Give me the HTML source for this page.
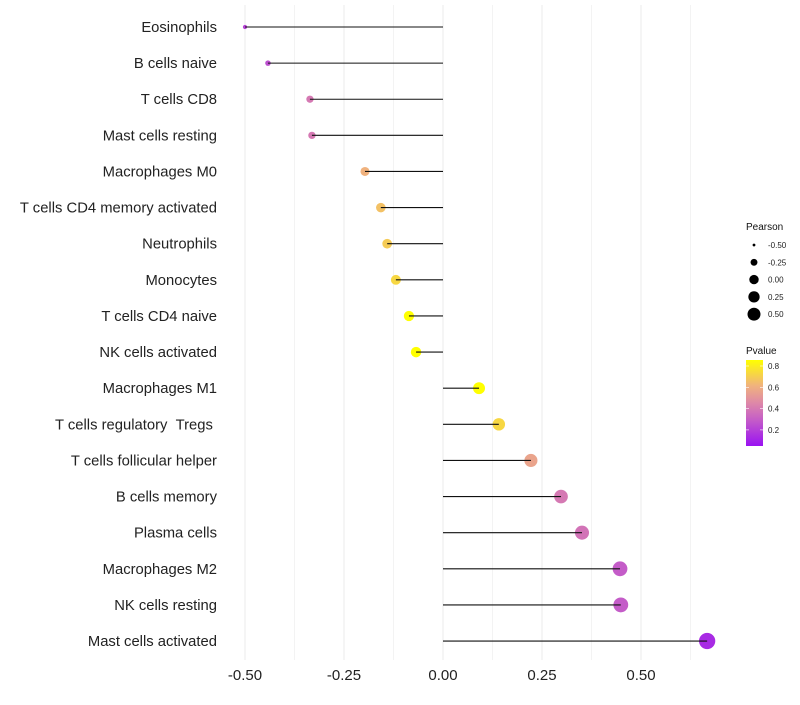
<!DOCTYPE html>
<html><head><meta charset="utf-8"><style>
body{margin:0;background:#fff;font-family:"Liberation Sans",sans-serif}
</style></head><body>
<svg id="chart" width="800" height="700" xmlns="http://www.w3.org/2000/svg">
<defs><linearGradient id="pg" x1="0" y1="1" x2="0" y2="0">
<stop offset="0" stop-color="#9A12F2"/><stop offset="0.3" stop-color="#C45CC8"/><stop offset="0.5" stop-color="#DE88A8"/><stop offset="0.7" stop-color="#F0B27E"/><stop offset="1" stop-color="#FFFF00"/>
</linearGradient></defs>
<g id="grid"></g><g id="marks"></g><g id="labels"></g><g id="legend"></g>
</svg>
<script>
const categories=["Eosinophils","B cells naive","T cells CD8","Mast cells resting","Macrophages M0","T cells CD4 memory activated","Neutrophils","Monocytes","T cells CD4 naive","NK cells activated","Macrophages M1","T cells regulatory \u00A0Tregs\u00A0","T cells follicular helper","B cells memory","Plasma cells","Macrophages M2","NK cells resting","Mast cells activated"];
const pearson=[-0.50,-0.442,-0.336,-0.331,-0.197,-0.157,-0.141,-0.119,-0.086,-0.068,0.091,0.141,0.222,0.298,0.351,0.447,0.449,0.667];
const pvalue=[0.2,0.25,0.4,0.4,0.6,0.65,0.68,0.72,0.85,0.87,0.85,0.72,0.55,0.4,0.38,0.3,0.3,0.1];
const xTicks=[-0.5,-0.25,0,0.25,0.5];
const xTickLabels=["-0.50","-0.25","0.00","0.25","0.50"];
const NS="http://www.w3.org/2000/svg";
const X=v=>443+v*396;
const Y=i=>27+i*36.12;
const R=v=>Math.sqrt(Math.max(2,31+53*v));
const RL=v=>Math.sqrt(Math.max(1,22+40*v));
const stops=[[0,[154,18,242]],[0.3,[196,92,200]],[0.45,[222,136,168]],[0.6,[240,178,126]],[0.85,[255,255,0]]];
function col(p){p=Math.max(0,Math.min(0.85,p));for(let k=1;k<stops.length;k++){if(p<=stops[k][0]){const a=stops[k-1],b=stops[k],t=(p-a[0])/(b[0]-a[0]);return "rgb("+a[1].map((c,j)=>Math.round(c+(b[1][j]-c)*t)).join(",")+")";}}return "rgb(255,255,0)";}
function el(t,a,p){const e=document.createElementNS(NS,t);for(const k in a)e.setAttribute(k,a[k]);p.appendChild(e);return e;}
const grid=document.getElementById('grid'),marks=document.getElementById('marks'),labels=document.getElementById('labels'),legend=document.getElementById('legend');
for(let v=-0.625;v<=0.626;v+=0.125){const x=X(v);if(x<225||x>725)continue;
 const g=el('line',{x1:x,x2:x,y1:5,y2:660,stroke:'#ebebeb','stroke-width':Math.abs(v*4-Math.round(v*4))<1e-6?1:0.6},grid);
 
 }
xTicks.forEach((v,i)=>{const t=el('text',{x:X(v),y:680,'text-anchor':'middle','font-size':15,fill:'#222'},labels);t.textContent=xTickLabels[i];
 
 });
categories.forEach((c,i)=>{const y=Y(i);
 const t=el('text',{x:217,y:y+5,'text-anchor':'end','font-size':14.8,fill:'#222'},labels);t.textContent=c;
 
 
 const d=el('circle',{cx:X(pearson[i]),cy:y,r:R(pearson[i]),fill:col(pvalue[i])},marks);
 
 
 const l=el('line',{x1:X(0),x2:X(pearson[i]),y1:y,y2:y,stroke:'#111','stroke-width':1.1},marks);
 
 });
let t=el('text',{x:746,y:230,'font-size':10,fill:'#111'},legend);t.textContent='Pearson';


const sz=[-0.5,-0.25,0,0.25,0.5],szl=["-0.50","-0.25","0.00","0.25","0.50"];
sz.forEach((v,i)=>{const y=245+i*17.3;
 const c=el('circle',{cx:754,cy:y,r:RL(v),fill:'#000'},legend);
 
 
 const tt=el('text',{x:768,y:y+3,'font-size':8,fill:'#222'},legend);tt.textContent=szl[i];
 
 });
t=el('text',{x:746,y:354,'font-size':10,fill:'#111'},legend);t.textContent='Pvalue';


const bar=el('rect',{x:746,y:360,width:17,height:86,fill:'url(#pg)'},legend);


[0.8,0.6,0.4,0.2].forEach(v=>{const y=366+(0.8-v)/0.2*21.3;
 el('line',{x1:746,x2:749,y1:y,y2:y,stroke:'#fff','stroke-width':0.6},legend);el('line',{x1:760,x2:763,y1:y,y2:y,stroke:'#fff','stroke-width':0.6},legend);
 const tt=el('text',{x:768,y:y+3,'font-size':8,fill:'#222'},legend);tt.textContent=v.toFixed(1);
 
 });
</script>
</body></html>
